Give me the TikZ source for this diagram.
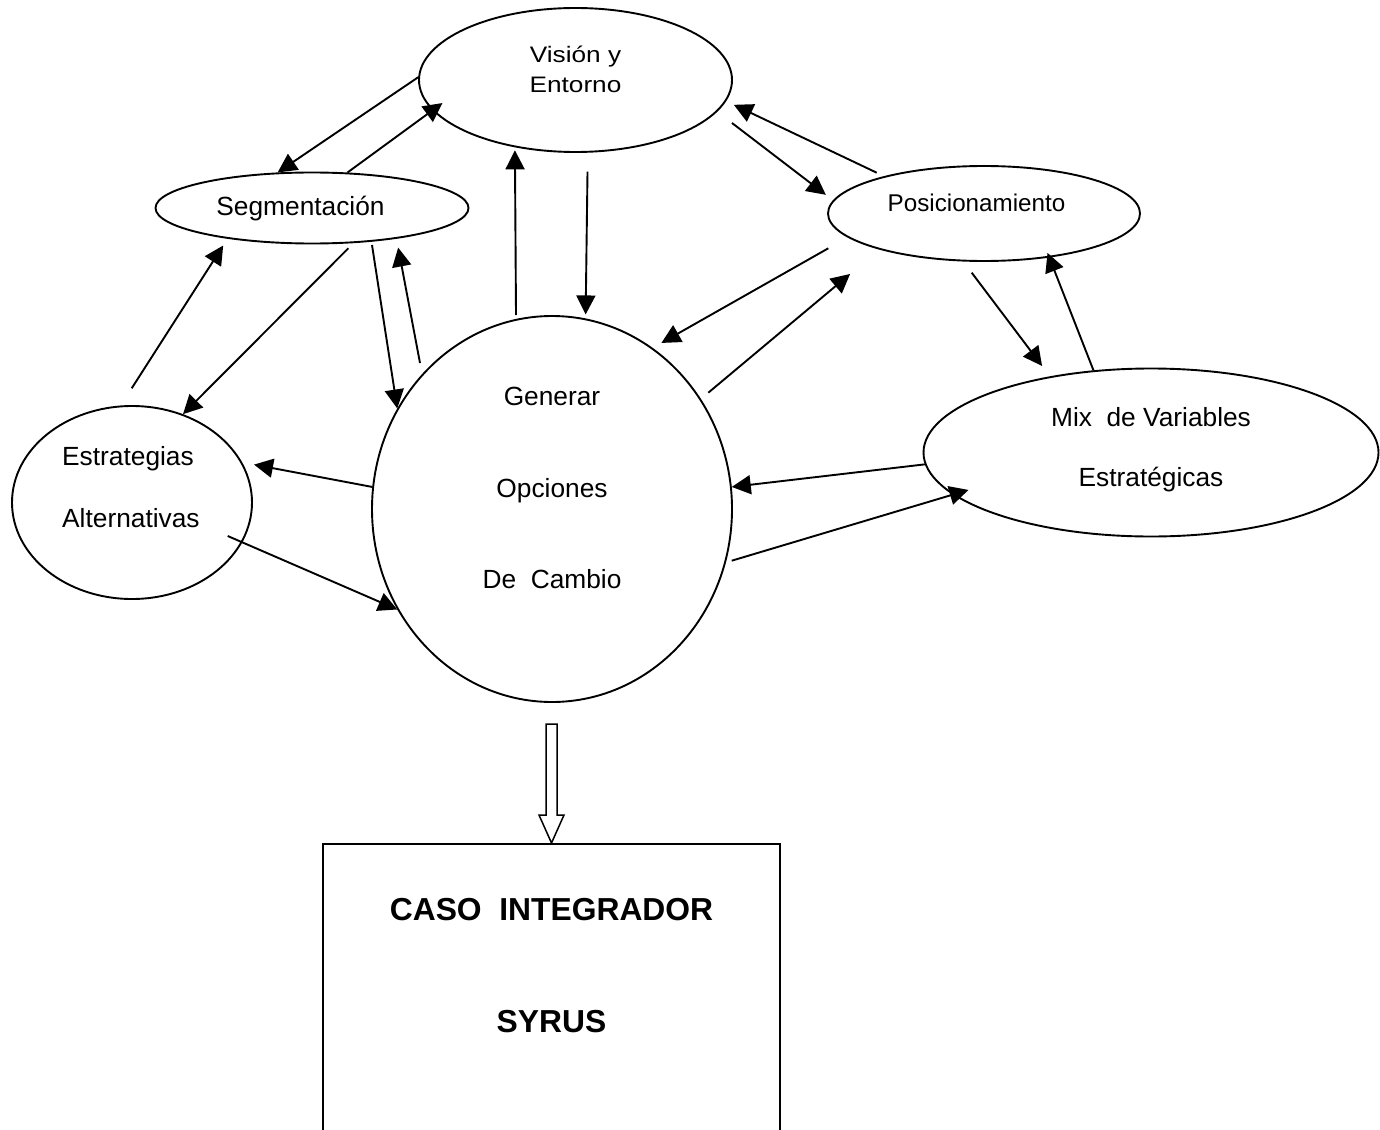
\documentclass[tikz,border=0pt]{standalone}
\usepackage{fontspec}
\usepackage{graphicx}
\setmainfont{Liberation Sans}
\usetikzlibrary{shapes.geometric,arrows.meta}
\newcommand{\visfont}[1]{\scalebox{1.17}[1]{\fontsize{22.4}{26}\selectfont #1}}
\begin{document}
\begin{tikzpicture}[x=1pt,y=-1pt,
  ell/.style={draw, ellipse, line width=1.9pt, inner sep=0pt},
  arr/.style={line width=1.9pt, -{Triangle[length=19pt,width=19pt]}},
  lbl/.style={inner sep=0pt, anchor=base, font=\fontsize{26.3}{30}\selectfont},
  bold/.style={inner sep=0pt, anchor=base, font=\bfseries\fontsize{31.8}{36}\selectfont}]
\useasboundingbox (0,0) rectangle (1380,1129);
\clip (0,0) rectangle (1380,1129);

% shapes
\node[ell, minimum width=313pt, minimum height=144pt] (V) at (575.5,80) {};
\node[ell, minimum width=313pt, minimum height=71pt] (S) at (312,208) {};
\node[ell, minimum width=312pt, minimum height=95pt] (P) at (984,213.5) {};
\node[ell, minimum width=240pt, minimum height=193pt] (E) at (132,502.5) {};
\node[ell, minimum width=360pt, minimum height=386pt] (G) at (552,509) {};
\node[ell, minimum width=455pt, minimum height=168pt] (M) at (1151,452.5) {};
\node[draw, line width=1.9pt, inner sep=0pt, anchor=north,
      minimum width=457pt, minimum height=400pt] (box) at (551.5,843) {};

% texts
\node[lbl] (tv1) at (575.5,63) {\visfont{Visión y}};
\node[lbl] (tv2) at (575.5,93) {\visfont{Entorno}};
\node[lbl] (ts) at (300.5,215) {Segmentación};
\node[lbl, font=\fontsize{24.2}{28}\selectfont] (tp) at (976.5,211.7) {Posicionamiento};
\node[lbl, anchor=base west] (te1) at (62,465.7) {Estrategias};
\node[lbl, anchor=base west] (te2) at (62,527.7) {Alternativas};
\node[lbl] (tg1) at (552,405) {Generar};
\node[lbl] (tg2) at (552,497) {Opciones};
\node[lbl] (tg3) at (552,588.3) {De\ \ Cambio};
\node[lbl] (tm1) at (1151,426) {Mix\ \ de Variables};
\node[lbl] (tm2) at (1151,486.7) {Estratégicas};
\node[bold] (tb1) at (551.5,920) {CASO\ \ INTEGRADOR};
\node[bold] (tb2) at (551.5,1032) {SYRUS};

% free connector ends
\coordinate (a3t) at (516,315);
\coordinate (a4t) at (587.5,171.7);
\coordinate (a5t) at (732,123);
\coordinate (a6t) at (876.7,172.7);
\coordinate (a7t) at (372,245);
\coordinate (a8t) at (420,363);
\coordinate (a9t) at (348.3,248.3);
\coordinate (a10t) at (131.7,388.3);
\coordinate (a12t) at (227.7,536);
\coordinate (a13t) at (828.3,248.3);
\coordinate (a14t) at (708.3,392.7);
\coordinate (a15t) at (971.7,272.7);
\coordinate (a18t) at (731.7,560.7);

% connectors
\draw[arr] (V.179) -- (S.134);
\draw[arr, shorten >=-12.5pt] (S.45) -- (V.192);
\draw[arr, shorten >=3pt] (a3t) -- (V.228);
\draw[arr, shorten >=4pt] (a4t) -- (G.80);
\draw[arr, shorten >=9pt] (a5t) -- (P.175);
\draw[arr, shorten >=8.5pt] (a6t) -- (V.352);
\draw[arr] (a7t) -- (G.147);
\draw[arr, shorten >=9pt] (a8t) -- (S.340);
\draw[arr] (a9t) -- (E.60);
\draw[arr, shorten >=8pt] (a10t) -- (S.200);
\draw[arr, shorten >=12pt] (G.173) -- (E.20);
\draw[arr] (a12t) -- (G.213);
\draw[arr, shorten >=10pt] (a13t) -- (G.58);
\draw[arr, shorten >=38pt] (a14t) -- (P.199);
\draw[arr, shorten >=13pt] (a15t) -- (M.143);
\draw[arr, shorten >=-5pt] (M.125) -- (P.326);
\draw[arr] (M.183) -- (G.7);
\draw[arr, shorten >=-16.5pt] (a18t) -- (M.192);

% hollow arrow to the box
\draw[line width=1.5pt, line join=miter] (box.north) -- ++(-12.5,-28) -- ++(7,0) -- ++(0,-91)
  -- ++(11,0) -- ++(0,91) -- ++(7,0) -- cycle;
\end{tikzpicture}
\end{document}
